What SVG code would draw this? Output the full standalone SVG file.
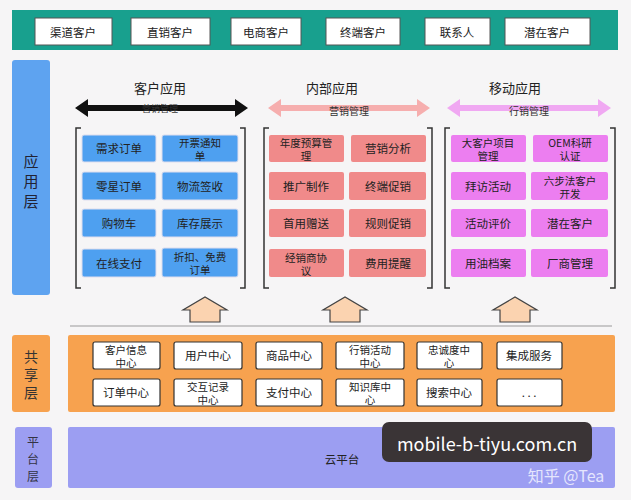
<svg xmlns="http://www.w3.org/2000/svg" width="631" height="500" viewBox="0 0 631 500">
<style>
text{font-family:"Noto Sans CJK SC","Liberation Sans",sans-serif;text-anchor:middle;dominant-baseline:central}
.tb{fill:#fff;stroke:#555;stroke-width:1}
.t{font-size:11.5px;fill:#222}
.s{font-size:10.5px;fill:#222}
.b{fill:#4ea0f0;stroke:#dde;stroke-width:1}
.r{fill:#f08a8a}
.v{fill:#ec7ef0}
.w{fill:#fff;stroke:#333;stroke-width:1.2}
.br{fill:none;stroke:#333;stroke-width:1.5}
.h{font-size:13px;fill:#222}
.up{fill:#fbd3b0;stroke:#444;stroke-width:1.2}
</style>
<rect width="631" height="500" fill="#f6f5f6"/>
<g id="top">
<rect x="12" y="10" width="606" height="40" fill="#18a08e"/>
<rect class="tb" x="35" y="18" width="77" height="27"/><text class="t" x="73" y="32">渠道客户</text>
<rect class="tb" x="131" y="18" width="79" height="27"/><text class="t" x="170" y="32">直销客户</text>
<rect class="tb" x="231" y="18" width="70" height="27"/><text class="t" x="266" y="32">电商客户</text>
<rect class="tb" x="326" y="18" width="74" height="27"/><text class="t" x="363" y="32">终端客户</text>
<rect class="tb" x="425" y="18" width="65" height="27"/><text class="t" x="457" y="32">联系人</text>
<rect class="tb" x="505" y="18" width="85" height="27"/><text class="t" x="547" y="32">潜在客户</text>
</g>
<g id="app-layer">
<rect x="12" y="60" width="38" height="235" rx="3" fill="#5ea3f0"/>
<text x="31" y="160" font-size="15" fill="#223">应</text><text x="31" y="180" font-size="15" fill="#223">用</text><text x="31" y="200" font-size="15" fill="#223">层</text>
</g>
<g id="connectors">
<path d="M75,108 L88,99 L88,105 L235,105 L235,99 L248,108 L235,117 L235,111 L88,111 L88,117 Z" fill="#111"/>
<path d="M268,108 L281,99 L281,105 L417,105 L417,99 L430,108 L417,117 L417,111 L281,111 L281,117 Z" fill="#f6aeae"/>
<path d="M447,108 L460,99 L460,105 L598,105 L598,99 L611,108 L598,117 L598,111 L460,111 L460,117 Z" fill="#f0a8f2"/>
<path class="up" d="M190,322 L190,310 L183,310 L205,297 L227,310 L220,310 L220,322 Z"/>
<path class="up" d="M330,322 L330,310 L323,310 L345,297 L367,310 L360,310 L360,322 Z"/>
<path class="up" d="M500,322 L500,310 L493,310 L515,297 L537,310 L530,310 L530,322 Z"/>
<line x1="70" y1="326" x2="612" y2="326" stroke="#999" stroke-width="1.2"/>
</g>
<g id="col1">
<text class="h" x="160" y="87">客户应用</text>
<text x="160" y="108" font-size="9" fill="#333">营销管理</text>
<path class="br" d="M81,128 H76 V288 H81 M240,128 H245 V288 H240"/>
<rect class="b" x="82" y="135" width="74" height="27" rx="2"/><text class="t" x="119" y="148">需求订单</text>
<rect class="b" x="162" y="135" width="76" height="27" rx="2"/><text class="s"><tspan x="200" y="142">开票通知</tspan><tspan x="200" y="155">单</tspan></text>
<rect class="b" x="82" y="172" width="74" height="28" rx="2"/><text class="t" x="119" y="186">零星订单</text>
<rect class="b" x="162" y="172" width="76" height="28" rx="2"/><text class="t" x="200" y="186">物流签收</text>
<rect class="b" x="82" y="209" width="74" height="28" rx="2"/><text class="t" x="119" y="223">购物车</text>
<rect class="b" x="162" y="209" width="76" height="28" rx="2"/><text class="t" x="200" y="223">库存展示</text>
<rect class="b" x="82" y="249" width="74" height="28" rx="2"/><text class="t" x="119" y="263">在线支付</text>
<rect class="b" x="162" y="248" width="76" height="29" rx="2"/><text class="s"><tspan x="200" y="256">折扣、免费</tspan><tspan x="200" y="269">订单</tspan></text>
</g>
<g id="col2">
<text class="h" x="332" y="87">内部应用</text>
<text x="349" y="110" font-size="10" fill="#333">营销管理</text>
<path class="br" d="M269,128 H264 V288 H269 M427,128 H432 V288 H427"/>
<rect class="r" x="269" y="135" width="75" height="27" rx="2"/><text class="s"><tspan x="306" y="142">年度预算管</tspan><tspan x="306" y="155">理</tspan></text>
<rect class="r" x="351" y="135" width="75" height="27" rx="2"/><text class="t" x="388" y="148">营销分析</text>
<rect class="r" x="269" y="172" width="75" height="28" rx="2"/><text class="t" x="306" y="186">推广制作</text>
<rect class="r" x="349" y="172" width="77" height="28" rx="2"/><text class="t" x="388" y="186">终端促销</text>
<rect class="r" x="269" y="209" width="75" height="28" rx="2"/><text class="t" x="306" y="223">首用赠送</text>
<rect class="r" x="349" y="209" width="77" height="28" rx="2"/><text class="t" x="388" y="223">规则促销</text>
<rect class="r" x="269" y="249" width="75" height="28" rx="2"/><text class="s"><tspan x="306" y="257">经销商协</tspan><tspan x="306" y="270">议</tspan></text>
<rect class="r" x="349" y="249" width="77" height="28" rx="2"/><text class="t" x="388" y="263">费用提醒</text>
</g>
<g id="col3">
<text class="h" x="515" y="87">移动应用</text>
<text x="529" y="110" font-size="10" fill="#333">行销管理</text>
<path class="br" d="M450,128 H445 V288 H450 M610,128 H615 V288 H610"/>
<rect class="v" x="451" y="135" width="75" height="27" rx="2"/><text class="s"><tspan x="488" y="142">大客户项目</tspan><tspan x="488" y="155">管理</tspan></text>
<rect class="v" x="533" y="135" width="75" height="27" rx="2"/><text class="s"><tspan x="570" y="142">OEM科研</tspan><tspan x="570" y="155">认证</tspan></text>
<rect class="v" x="451" y="172" width="75" height="28" rx="2"/><text class="t" x="488" y="186">拜访活动</text>
<rect class="v" x="531" y="172" width="77" height="28" rx="2"/><text class="s"><tspan x="570" y="180">六步法客户</tspan><tspan x="570" y="193">开发</tspan></text>
<rect class="v" x="451" y="209" width="75" height="28" rx="2"/><text class="t" x="488" y="223">活动评价</text>
<rect class="v" x="531" y="209" width="77" height="28" rx="2"/><text class="t" x="570" y="223">潜在客户</text>
<rect class="v" x="451" y="249" width="75" height="28" rx="2"/><text class="t" x="488" y="263">用油档案</text>
<rect class="v" x="531" y="249" width="77" height="28" rx="2"/><text class="t" x="570" y="263">厂商管理</text>
</g>
<g id="shared">
<rect x="12" y="335" width="38" height="77" rx="3" fill="#f7a24f"/>
<text x="31" y="356" font-size="14" fill="#333">共</text><text x="31" y="374" font-size="14" fill="#333">享</text><text x="31" y="392" font-size="14" fill="#333">层</text>
<rect x="68" y="335" width="547" height="77" rx="2" fill="#f7a24f"/>
<rect class="w" x="93" y="342" width="67" height="27" rx="2"/><text class="s"><tspan x="126" y="349">客户信息</tspan><tspan x="126" y="362">中心</tspan></text>
<rect class="w" x="174" y="342" width="68" height="27" rx="2"/><text class="t" x="208" y="355">用户中心</text>
<rect class="w" x="256" y="342" width="66" height="27" rx="2"/><text class="t" x="289" y="355">商品中心</text>
<rect class="w" x="336" y="342" width="68" height="27" rx="2"/><text class="s"><tspan x="370" y="349">行销活动</tspan><tspan x="370" y="362">中心</tspan></text>
<rect class="w" x="417" y="342" width="65" height="27" rx="2"/><text class="s"><tspan x="449" y="349">忠诚度中</tspan><tspan x="449" y="362">心</tspan></text>
<rect class="w" x="497" y="342" width="65" height="27" rx="2"/><text class="t" x="529" y="355">集成服务</text>
<rect class="w" x="93" y="379" width="67" height="27" rx="2"/><text class="t" x="126" y="392">订单中心</text>
<rect class="w" x="174" y="379" width="68" height="27" rx="2"/><text class="s"><tspan x="208" y="386">交互记录</tspan><tspan x="208" y="399">中心</tspan></text>
<rect class="w" x="256" y="379" width="66" height="27" rx="2"/><text class="t" x="289" y="392">支付中心</text>
<rect class="w" x="336" y="379" width="68" height="27" rx="2"/><text class="s"><tspan x="370" y="386">知识库中</tspan><tspan x="370" y="399">心</tspan></text>
<rect class="w" x="417" y="379" width="65" height="27" rx="2"/><text class="t" x="449" y="392">搜索中心</text>
<rect class="w" x="497" y="379" width="65" height="27" rx="2"/><text class="t" x="529" y="392">. . .</text>
</g>
<g id="platform">
<rect x="15" y="427" width="37" height="61" rx="3" fill="#9c9ef2"/>
<text x="33" y="441" font-size="12" fill="#334">平</text><text x="33" y="458" font-size="12" fill="#334">台</text><text x="33" y="475" font-size="12" fill="#334">层</text>
<rect x="68" y="427" width="547" height="61" rx="2" fill="#9c9ef2"/>
<text class="t" x="342" y="459">云平台</text>
</g>
<g id="watermark">
<rect x="382" y="422" width="210" height="40" rx="7" fill="#3a3436"/>
<text x="487" y="443" font-size="18" fill="#fff" font-family="'Liberation Sans',sans-serif">mobile-b-tiyu.com.cn</text>
<text x="566" y="475" font-size="16" fill="#eef" opacity="0.9">知乎 @Tea</text>
</g>
</svg>
